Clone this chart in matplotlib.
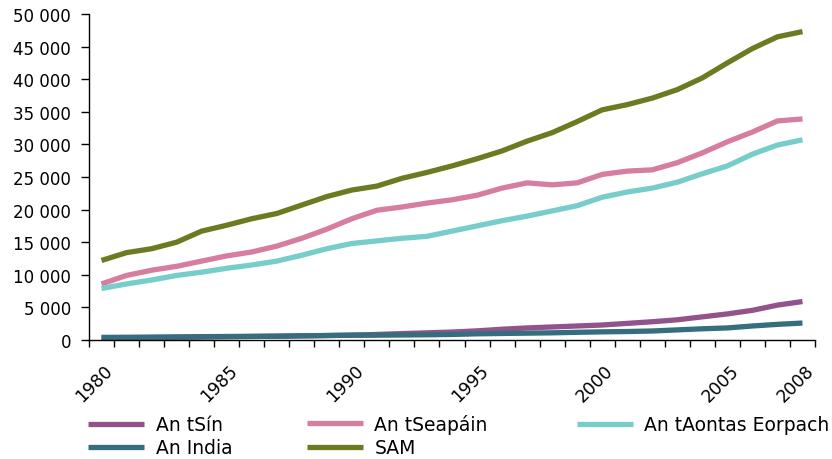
import numpy as np
import matplotlib
matplotlib.use("Agg")
import matplotlib.pyplot as plt
from matplotlib.ticker import FuncFormatter, FixedLocator
from matplotlib.transforms import ScaledTranslation

# GDP figures, 1980-2008
years = list(range(1980, 2009))
label_years = [1980, 1985, 1990, 1995, 2000, 2005, 2008]

china = [300, 330, 360, 400, 450, 500, 540, 580, 630, 680, 750, 850, 980, 1100, 1220, 1400, 1650,
         1850, 2000, 2150, 2300, 2550, 2800, 3100, 3550, 4000, 4550, 5350, 5900]
india = [400, 420, 450, 480, 510, 540, 560, 590, 640, 690, 730, 740, 770, 800, 850, 950, 1000,
         1050, 1100, 1180, 1250, 1300, 1380, 1550, 1720, 1850, 2150, 2400, 2600]
japan = [8600, 9900, 10700, 11300, 12100, 12900, 13500, 14400, 15600, 17000, 18600, 19900, 20400,
         21000, 21500, 22200, 23300, 24100, 23800, 24100, 25400, 25900, 26100, 27200, 28700, 30400,
         31900, 33600, 33900]
eu = [7900, 8600, 9200, 9900, 10400, 11000, 11500, 12100, 13000, 14000, 14800, 15200, 15600,
      15900, 16700, 17500, 18300, 19000, 19800, 20600, 21900, 22700, 23300, 24200, 25500, 26700,
      28500, 29900, 30700]
usa = [12200, 13400, 14000, 15000, 16700, 17600, 18600, 19400, 20700, 22000, 23000, 23600, 24800,
       25700, 26700, 27800, 29000, 30500, 31800, 33500, 35300, 36100, 37100, 38400, 40200, 42500,
       44700, 46500, 47300]

plt.rcParams["font.family"] = ["DejaVu Sans"]
plt.rcParams["font.size"] = 12

fig = plt.figure(figsize=(8.32, 4.60), dpi=100)
ax = fig.add_axes([89 / 832, 1 - 341 / 460, 726 / 832, 326 / 460])

lw = 3.8
h_cn, = ax.plot(years, china, color="#92528C", lw=lw, label="An tSín", solid_capstyle="butt")
h_in, = ax.plot(years, india, color="#356E7E", lw=lw, label="An India", solid_capstyle="butt")
h_jp, = ax.plot(years, japan, color="#D77DA0", lw=lw, label="An tSeapáin", solid_capstyle="butt")
h_us, = ax.plot(years, usa, color="#6E7A22", lw=lw, label="SAM", solid_capstyle="butt")
h_eu, = ax.plot(years, eu, color="#76CDCA", lw=lw, label="An tAontas Eorpach", solid_capstyle="butt")

ax.set_xlim(years[0] - 0.5, years[-1] + 0.5)
ax.set_ylim(0, 50000)
ax.set_yticks(range(0, 50001, 5000))
ax.yaxis.set_major_formatter(FuncFormatter(lambda v, p: f"{int(v):,}".replace(",", " ")))

ax.xaxis.set_major_locator(FixedLocator(label_years))
ax.xaxis.set_minor_locator(FixedLocator([y - 0.5 for y in years] + [years[-1] + 0.5]))
ax.tick_params(axis="x", which="major", length=0, pad=15, labelsize=12.5)
ax.tick_params(axis="x", which="minor", length=5, width=1, direction="out")
ax.tick_params(axis="y", length=6, width=1, direction="out", pad=7)
for lab in ax.get_xticklabels():
    lab.set_rotation(45)
    lab.set_transform(lab.get_transform() + ScaledTranslation(-7 / 100, 0, fig.dpi_scale_trans))

for s in ["top", "right"]:
    ax.spines[s].set_visible(False)
for s in ["left", "bottom"]:
    ax.spines[s].set_linewidth(1)

# legend: one small legend per entry so the rows line up like the original
leg_kw = dict(loc="center left", frameon=False, fontsize=13.5, handlelength=3.0,
              handletextpad=0.6, borderaxespad=0, borderpad=0)
row1, row2 = 1 - 426 / 460, 1 - 449 / 460
for h, x, y in [(h_cn, 88, row1), (h_in, 88, row2), (h_jp, 307, row1 + 1 / 460),
                (h_us, 307, row2), (h_eu, 577, row1)]:
    fig.legend(handles=[h], bbox_to_anchor=(x / 832, y), **leg_kw)

fig.savefig("out.png", dpi=100)
